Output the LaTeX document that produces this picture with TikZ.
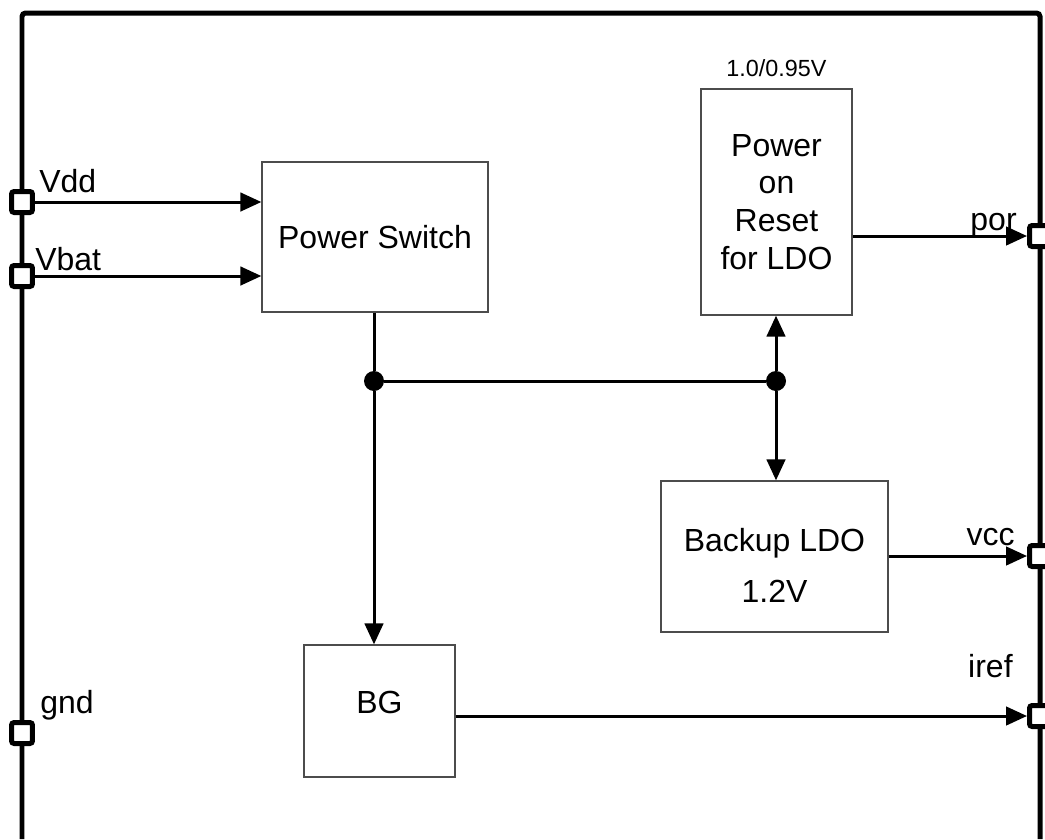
\documentclass[tikz,border=0pt]{standalone}
\usepackage{fontspec}
\setmainfont{Liberation Sans}
\usetikzlibrary{arrows.meta}
\newcommand\bigfont{\fontsize{18.2}{21.5}\selectfont}
\newcommand\smallfont{\fontsize{13.3}{16}\selectfont}
\tikzset{
  block/.style={draw=black!70, line width=0.75pt, fill=white, align=center, inner sep=0pt},
  iopin/.style={draw, line width=0.1cm, fill=white, rounded corners=1.5pt, minimum size=0.42cm, inner sep=0pt},
  sig/.style={line width=0.06cm, -{Triangle[length=0.42cm,width=0.37cm]}},
  junction/.style={circle, fill, inner sep=0pt, minimum size=0.4cm},
  pinname/.style={inner sep=0pt},
}
\begin{document}
\begin{tikzpicture}[x=0.02cm, y=-0.02cm, font=\bigfont]
  \useasboundingbox (0,0) rectangle (1045,839);
  % chip outline (open at the bottom)
  \draw[line width=0.1cm, rounded corners=2pt] (22,839) -- (22,13) -- (1040,13) -- (1040,839);
  % blocks
  \node[block, minimum width=4.52cm, minimum height=3cm] (psw) at (375,237) {Power Switch};
  \node[block, minimum width=3.02cm, minimum height=4.52cm] (por) at (776.5,202) {Power\\on\\Reset\\for LDO};
  \node[block, minimum width=4.54cm, minimum height=3.02cm,
        label={[yshift=-0.17cm, align=center]center:Backup LDO\\[7.5pt]1.2V}] (ldo) at (774.5,556.5) {};
  \node[block, minimum width=3.02cm, minimum height=2.64cm,
        label={[yshift=0.17cm]center:BG}] (bg) at (379.5,711) {};
  \node[anchor=base, font=\smallfont] (porvolt) at ([yshift=0.24cm]por.north) {1.0/0.95V};
  % pins
  \node[iopin] (vddpin) at (22,202) {};
  \node[iopin] (vbatpin) at (22,276) {};
  \node[iopin] (gndpin) at (22,733) {};
  \node[iopin] (porpin) at (1040,236) {};
  \node[iopin] (vccpin) at (1040,556) {};
  \node[iopin] (irefpin) at (1040,716) {};
  % pin names
  \node[pinname, anchor=base west] (vddlbl) at (39,192) {Vdd};
  \node[pinname, anchor=base west] (vbatlbl) at (35,270) {Vbat};
  \node[pinname, anchor=base west] (gndlbl) at (40,713) {gnd};
  \node[pinname, anchor=base east] (porlbl) at (1017,230) {por};
  \node[pinname, anchor=base east] (vcclbl) at (1015,545) {vcc};
  \node[pinname, anchor=base east] (ireflbl) at (1013,677) {iref};
  % inputs and outputs
  \draw[sig] (vddpin) -- (vddpin -| psw.west);
  \draw[sig] (vbatpin) -- (vbatpin -| psw.west);
  \draw[sig] (por.east |- porpin) -- (porpin);
  \draw[sig] (ldo.east |- vccpin) -- (vccpin);
  \draw[sig] (bg.east |- irefpin) -- (irefpin);
  % supply net
  \node[junction] (j1) at (374,381) {};
  \node[junction] (j2) at (776,381) {};
  \draw[line width=0.06cm] (j1 |- psw.south) -- (j1) -- (j2);
  \draw[sig] (j1) -- (j1 |- bg.north);
  \draw[sig] (j2) -- (j2 |- por.south);
  \draw[sig] (j2) -- (j2 |- ldo.north);
\end{tikzpicture}
\end{document}
